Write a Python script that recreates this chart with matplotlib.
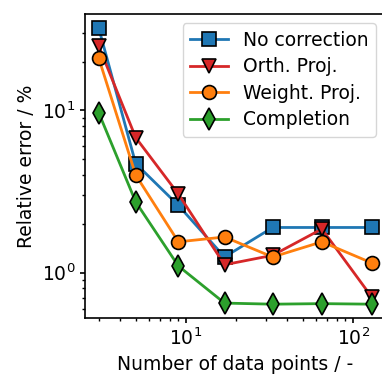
import matplotlib
matplotlib.use("Agg")
import matplotlib.pyplot as plt

# ============================================================
# data
# ============================================================
n_points = [3, 5, 9, 17, 33, 65, 129]

no_corr = [32.3, 4.7, 2.6, 1.25, 1.9, 1.9, 1.9]
orth_proj = [25.0, 6.8, 3.05, 1.12, 1.28, 1.86, 0.71]
weight_proj = [21.1, 4.0, 1.55, 1.66, 1.25, 1.55, 1.15]
completion = [9.7, 2.73, 1.10, 0.65, 0.64, 0.645, 0.64]

labels = ["No correction", "Orth. Proj.", "Weight. Proj.", "Completion"]
colors = ["#1f77b4", "#d62728", "#ff7f0e", "#2ca02c"]
markers = ["s", "v", "o", "d"]

# ============================================================
# plot
# ============================================================
plt.rcParams["font.size"] = 13.5

fig = plt.figure(figsize=(3.82, 3.77), dpi=100)
ax = fig.add_axes([0.2225, 0.1565, 0.786, 0.8065])

for y, lab, c, m in zip([no_corr, orth_proj, weight_proj, completion], labels, colors, markers):
    ax.plot(n_points, y, color=c, marker=m, markersize=10 if m != "d" else 11,
            markeredgecolor="black", markeredgewidth=1.2, linewidth=2, label=lab)

ax.set_xscale("log")
ax.set_yscale("log")
ax.set_xlabel("Number of data points / -")
ax.set_ylabel("Relative error / %")
for s in ax.spines.values():
    s.set_linewidth(1.2)
ax.tick_params(width=1.2)
ax.tick_params(which="minor", width=1.0)

ax.legend(loc="upper right", handlelength=2.0, borderpad=0.4, labelspacing=0.4)

fig.savefig("out.png", dpi=100)
